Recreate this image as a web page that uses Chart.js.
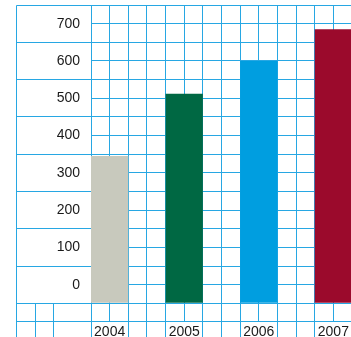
<!DOCTYPE html>
<html>
<head>
<meta charset="utf-8">
<script src="https://cdn.jsdelivr.net/npm/chart.js@4/dist/chart.umd.min.js"></script>
<style>
  html, body { margin: 0; padding: 0; overflow: hidden; background: #fff; }
  canvas { display: block; }
</style>
</head>
<body>
<canvas id="yearChart" width="352" height="345"></canvas>
<script>
const years = ['2004', '2005', '2006', '2007'];
const totals = [345, 512, 600, 685];
const yLabels = [0, 100, 200, 300, 400, 500, 600, 700];

const gridBlue = '#27a7e3';
const yMin = -50;
const yMax = 750;
const slot = 4;          // paper squares per year
const labelCols = 4;     // squares taken by the label column

// each year sits on a square boundary, one square in from its slot
const yearX = years.map((y, i) => 1 + i * slot);

function crisp(p) {
  return Math.round(p - 0.5) + 0.5;
}

function line(ctx, x1, y1, x2, y2) {
  ctx.beginPath();
  ctx.moveTo(x1, y1);
  ctx.lineTo(x2, y2);
  ctx.stroke();
}

// pin the axis boxes so the squares come out the same size both ways
function pinBox(size) {
  return (scale) => {
    if (scale.isHorizontal()) scale.height = size;
    else scale.width = size;
    scale.paddingTop = 0;
    scale.paddingBottom = 0;
    scale.paddingLeft = 0;
    scale.paddingRight = 0;
  };
}

// rest of the squared paper: the label column and the two rows under the bars
const paperGrid = {
  id: 'paperGrid',
  beforeDatasetsDraw(chart) {
    const { ctx, scales: { x, y } } = chart;
    const left = crisp(x.getPixelForValue(-labelCols));
    const axisX = crisp(x.getPixelForValue(0));
    const top = crisp(y.getPixelForValue(yMax));
    const row1 = y.getPixelForValue(yMin);
    const row2 = y.getPixelForValue(yMin - 50);
    const row3 = y.getPixelForValue(yMin - 100);

    ctx.save();
    ctx.strokeStyle = gridBlue;
    ctx.lineWidth = 1;

    // left edge of the sheet
    line(ctx, left, top, left, chart.height);

    // label column: one line per 100, between the labels
    for (let v = yMin; v <= yMax; v += 100) {
      const py = crisp(y.getPixelForValue(v));
      line(ctx, left, py, axisX, py);
    }

    // rows below the bars
    line(ctx, left, crisp(row2), chart.width, crisp(row2));
    line(ctx, left, crisp(row3), chart.width, crisp(row3));

    for (let i = -labelCols; i <= x.max; i++) {
      if (i === -1) continue;
      const px = crisp(x.getPixelForValue(i));
      line(ctx, px, row1, px, row2);
      if (!yearX.includes(i)) line(ctx, px, row2, px, row3);
    }
    ctx.restore();
  }
};

const tickFont = { family: "'Liberation Sans', Arial, sans-serif", size: 14 };

new Chart(document.getElementById('yearChart'), {
  type: 'bar',
  data: {
    datasets: [{
      data: totals.map((v, i) => ({ x: yearX[i], y: v })),
      base: yMin,
      backgroundColor: ['#c8c9bd', '#006843', '#009ee0', '#9b0a2c'],
      borderWidth: 0,
      barPercentage: 2,
      categoryPercentage: 1
    }]
  },
  options: {
    responsive: false,
    animation: false,
    layout: { padding: { top: 5, left: 0, right: 0, bottom: 0 } },
    plugins: {
      legend: { display: false },
      tooltip: { enabled: false }
    },
    scales: {
      x: {
        type: 'linear',
        min: 0,
        max: 14,
        offset: false,
        afterFit: pinBox(41.7),
        grid: { color: gridBlue, drawTicks: false, offset: false },
        border: { color: gridBlue },
        ticks: {
          stepSize: 1,
          autoSkip: false,
          maxRotation: 0,
          padding: 20,
          color: '#1a1a1a',
          font: tickFont,
          callback: (v) => {
            const i = yearX.indexOf(v);
            return i >= 0 ? years[i] : '';
          }
        }
      },
      y: {
        min: yMin,
        max: yMax,
        afterFit: pinBox(91),
        grid: { color: gridBlue, drawTicks: false },
        border: { color: gridBlue },
        ticks: {
          stepSize: 50,
          autoSkip: false,
          padding: 11,
          color: '#1a1a1a',
          font: tickFont,
          callback: (v) => (yLabels.includes(v) ? String(v) : '')
        }
      }
    }
  },
  plugins: [paperGrid]
});
</script>
</body>
</html>
